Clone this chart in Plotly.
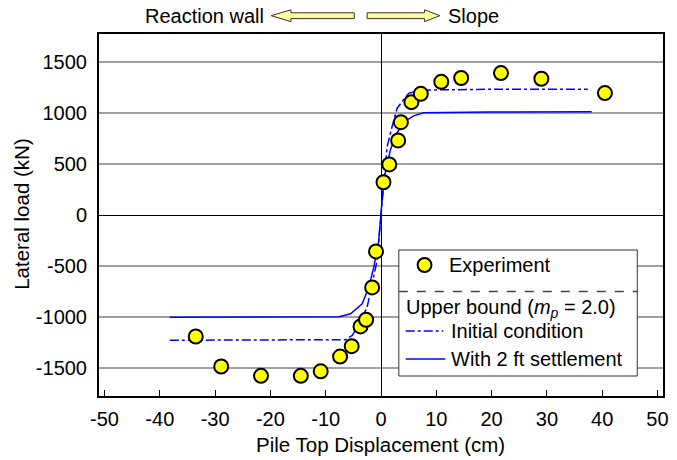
import plotly.graph_objects as go

# ---------------- data ----------------
exp_x = [-33.5, -28.9, -21.7, -14.5, -10.9, -7.4, -5.3, -3.7, -2.7, -1.6, -0.9,
         0.45, 1.5, 3.1, 3.6, 5.5, 7.2, 10.9, 14.5, 21.7, 29.0, 40.5]
exp_y = [-1195, -1490, -1582, -1582, -1537, -1392, -1290, -1096, -1030, -712, -358,
         322, 497, 733, 913, 1110, 1192, 1310, 1347, 1396, 1340, 1199]

init_x = [-38.2, -19.5, -6.4, -5.2, -4.0, -2.5, -1.6, -0.7, 0.0, 0.5, 1.1, 2.0, 2.9, 3.8, 5.0, 7.1, 19.6, 37.4]
init_y = [-1232, -1230, -1226, -1184, -1080, -904, -676, -446, 0, 340, 670, 868, 1048, 1114, 1196, 1229, 1236, 1237]

sett_x = [-38.2, -19.5, -7.6, -5.5, -3.4, -2.2, -1.3, -0.4, 0.0, 0.5, 1.7, 2.9, 4.3, 5.9, 7.7, 19.6, 38.1]
sett_y = [-1005, -1005, -1000, -971, -873, -709, -512, -250, 0, 342, 640, 810, 920, 975, 1005, 1012, 1015]

x_ticks = [-50, -40, -30, -20, -10, 0, 10, 20, 30, 40, 50]
y_ticks = [-1500, -1000, -500, 0, 500, 1000, 1500]

FONT = "Liberation Sans, Arial, sans-serif"
W, H = 677, 460
L, R, T, B = 99, 8, 34, 64
PW, PH = W - L - R, H - T - B


def px(xp):
    return (xp - L) / PW


def py(yp):
    return (H - B - yp) / PH


fig = go.Figure()

fig.add_trace(go.Scatter(x=sett_x, y=sett_y, mode="lines",
                         line=dict(color="#0000FF", width=1.5), showlegend=False))
fig.add_trace(go.Scatter(x=init_x, y=init_y, mode="lines",
                         line=dict(color="#0000FF", width=1.5, dash="dashdot"), showlegend=False))
fig.add_trace(go.Scatter(x=exp_x, y=exp_y, mode="markers",
                         marker=dict(size=14, color="#FFFF00", line=dict(color="#000000", width=2)),
                         showlegend=False, cliponaxis=False))

shapes = []
# legend box
shapes.append(dict(type="rect", xref="paper", yref="paper",
                   x0=px(402), x1=px(643), y0=py(376), y1=py(250),
                   fillcolor="white", line=dict(color="#333333", width=1), layer="above"))
shapes.append(dict(type="line", xref="paper", yref="paper",
                   x0=px(402), x1=px(643), y0=py(291.5), y1=py(291.5),
                   line=dict(color="#444444", width=1.5, dash="dash"), layer="above"))
shapes.append(dict(type="circle", xref="paper", yref="paper",
                   x0=px(421), x1=px(435), y0=py(272), y1=py(258),
                   fillcolor="#FFFF00", line=dict(color="#000000", width=2), layer="above"))
shapes.append(dict(type="line", xref="paper", yref="paper",
                   x0=px(409), x1=px(447), y0=py(331), y1=py(331),
                   line=dict(color="#0000FF", width=1.5, dash="dashdot"), layer="above"))
shapes.append(dict(type="line", xref="paper", yref="paper",
                   x0=px(409), x1=px(449), y0=py(359), y1=py(359),
                   line=dict(color="#0000FF", width=1.5), layer="above"))


def path(points):
    s = "M " + " L ".join(f"{px(a):.5f},{py(b):.5f}" for a, b in points) + " Z"
    return s


# direction arrows above the plot
left_arrow = [(273, 15.7), (293, 9.8), (293, 12.8), (357, 12.8), (357, 18.6), (293, 18.6), (293, 21.6)]
right_arrow = [(443.5, 15.7), (428, 9.8), (428, 12.8), (370, 12.8), (370, 18.6), (428, 18.6), (428, 21.6)]
for pts in (left_arrow, right_arrow):
    shapes.append(dict(type="path", xref="paper", yref="paper", path=path(pts),
                       fillcolor="#FFFFA0", line=dict(color="#333333", width=1), layer="above"))

annotations = []


def txt(text, x, y, xanchor="left", size=20, textangle=0):
    annotations.append(dict(text=text, x=px(x), y=py(y), xref="paper", yref="paper",
                            xanchor=xanchor, yanchor="middle", showarrow=False,
                            textangle=textangle,
                            font=dict(family=FONT, size=size, color="black")))


txt("Reaction wall", 268, 16, "right")
txt("Slope", 450, 16, "left")
txt("Experiment", 451, 265)
txt("Upper bound (<i>m<sub>p</sub></i> = 2.0)", 407, 308)
txt("Initial condition", 453, 331)
txt("With 2 ft settlement", 453, 359)
txt("Pile Top Displacement (cm)", 383, 444, "center", size=20.5)
txt("Lateral load (kN)", 21, 214, "center", size=20.5, textangle=-90)

fig.update_layout(
    width=W, height=H,
    margin=dict(l=L, r=R, t=T, b=B),
    paper_bgcolor="white", plot_bgcolor="white",
    font=dict(family=FONT, size=20, color="black"),
    shapes=shapes, annotations=annotations,
    showlegend=False,
)
fig.update_xaxes(range=[-51, 51], tickvals=x_ticks, ticktext=[str(v) for v in x_ticks],
                 showgrid=False, zeroline=True, zerolinecolor="black", zerolinewidth=1,
                 showline=True, linecolor="black", linewidth=2, mirror=True,
                 ticks="inside", ticklen=6, tickwidth=1, tickcolor="black",
                 tickfont=dict(family=FONT, size=20), ticklabelstandoff=4)
fig.update_yaxes(range=[-1780, 1780], tickvals=y_ticks, ticktext=[str(v) for v in y_ticks],
                 showgrid=True, gridcolor="#A0A0A0", gridwidth=1.5,
                 zeroline=True, zerolinecolor="black", zerolinewidth=1,
                 showline=True, linecolor="black", linewidth=2, mirror=True,
                 ticks="", tickfont=dict(family=FONT, size=20), ticklabelstandoff=6)

fig.write_html("out.html")
